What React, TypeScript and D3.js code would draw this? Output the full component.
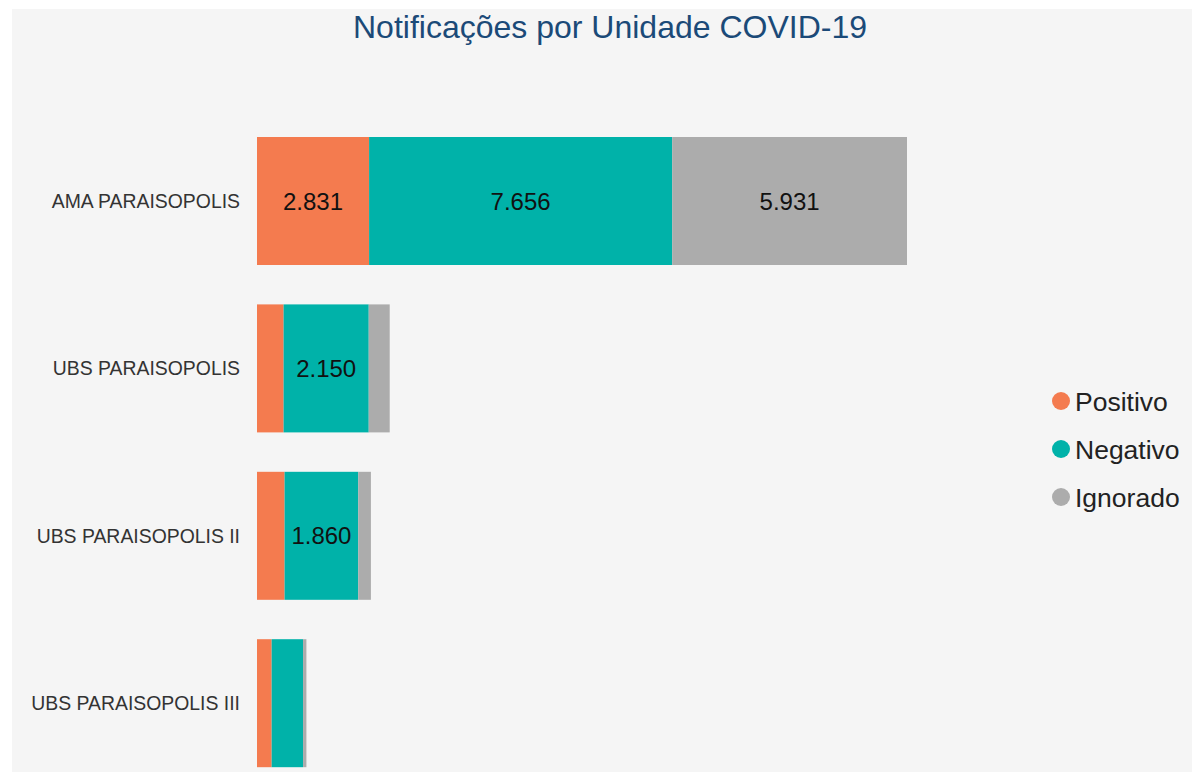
import React from "react";
import * as d3 from "d3";

const W = 1192;
const H = 772;

const units = ["AMA PARAISOPOLIS", "UBS PARAISOPOLIS", "UBS PARAISOPOLIS II", "UBS PARAISOPOLIS III"];
const positivo = [2831, 672, 697, 370];
const negativo = [7656, 2150, 1860, 793];
const ignorado = [5931, 530, 320, 85];

const keys = ["Positivo", "Negativo", "Ignorado"];
const colors = ["#f47b4f", "#00b2a9", "#acacac"];

const fmt = d3.formatLocale({ decimal: ",", thousands: ".", grouping: [3], currency: ["R$", ""] }).format(",d");

const App = () => {
  const rows = units.map((u, i) => ({ name: u, Positivo: positivo[i], Negativo: negativo[i], Ignorado: ignorado[i] }));
  const series = d3.stack<any>().keys(keys)(rows);

  const xScale = d3.scaleLinear().domain([0, 16418]).range([257, 907]);
  const yScale = d3
    .scaleBand()
    .domain(units)
    .range([117.3, 786.9])
    .paddingInner(0.2354)
    .paddingOuter(0.1177);
  const color = d3.scaleOrdinal<string>().domain(keys).range(colors);
  const bw = yScale.bandwidth();

  return (
    <svg width={W} height={H} style={{ position: "absolute", left: 0, top: 0, fontFamily: "'Liberation Sans', Arial, sans-serif" }}>
      <rect x={0} y={0} width={W} height={H} fill="#ffffff" />
      <rect x={12} y={9} width={W - 12} height={H - 9} fill="#f5f5f5" />
      <text x={610} y={38} textAnchor="middle" fontSize={32} fill="#1b4a78">
        Notificações por Unidade COVID-19
      </text>
      {series.map((s) => (
        <g key={s.key}>
          {s.map((d, j) => {
            const x0 = xScale(d[0]);
            const x1 = xScale(d[1]);
            const y = yScale(d.data.name)!;
            return (
              <g key={j}>
                <rect x={x0} y={y} width={x1 - x0} height={bw} fill={color(s.key)} />
                {x1 - x0 > 70 && (
                  <text x={(x0 + x1) / 2} y={y + bw / 2} dy="0.36em" textAnchor="middle" fontSize={24} fill="#111">
                    {fmt(d[1] - d[0])}
                  </text>
                )}
              </g>
            );
          })}
        </g>
      ))}
      {units.map((u) => (
        <text key={u} x={240} y={yScale(u)! + bw / 2} dy="0.36em" textAnchor="end" fontSize={19.4} fill="#333">
          {u}
        </text>
      ))}
      <g transform="translate(1061, 401)">
        {keys.map((k, i) => (
          <g key={k} transform={`translate(0, ${i * 48})`}>
            <circle r={9} fill={color(k)} />
            <text x={14} dy="0.36em" fontSize={26.5} fill="#222">
              {k}
            </text>
          </g>
        ))}
      </g>
    </svg>
  );
};

export default App;
